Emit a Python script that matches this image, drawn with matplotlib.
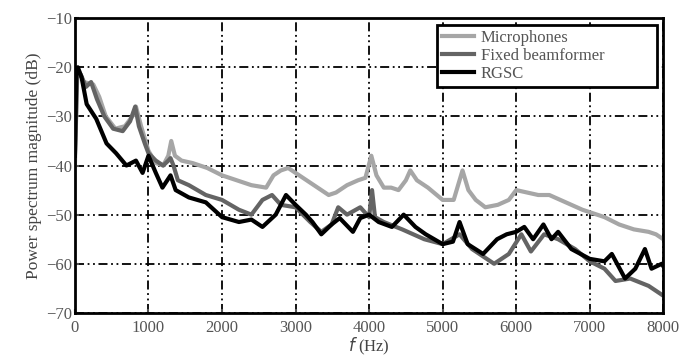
import numpy as np
import matplotlib.pyplot as plt

mic_f = [0, 30, 60, 120, 250, 330, 420, 550, 680, 780, 830, 900, 1000, 1100, 1200, 1270, 1310, 1360, 1450, 1600, 1800, 2000, 2200, 2400, 2600, 2700, 2800, 2900, 3000, 3150, 3300, 3450, 3550, 3700, 3850, 3950, 4030, 4100, 4200, 4300, 4400, 4500, 4560, 4650, 4800, 5000, 5150, 5270, 5350, 5450, 5580, 5750, 5900, 6000, 6150, 6300, 6450, 6600, 6750, 6900, 7000, 7200, 7400, 7600, 7800, 7900, 8000]
mic_db = [-40, -22, -21, -23, -23.5, -26, -30, -32.5, -32, -30, -28, -32, -37, -39.5, -40, -38, -35, -38, -39, -39.5, -40.5, -42, -43, -44, -44.5, -42, -41, -40.5, -41.5, -43, -44.5, -46, -45.5, -44, -43, -42.5, -38, -42, -44.5, -44.5, -45, -43, -41, -43, -44.5, -47, -47, -41, -45, -47, -48.5, -48, -47, -45, -45.5, -46, -46, -47, -48, -49, -49.5, -50.5, -52, -53, -53.5, -54, -55]

fix_f = [0, 30, 80, 150, 220, 300, 400, 520, 650, 750, 820, 870, 950, 1000, 1100, 1200, 1270, 1300, 1340, 1400, 1550, 1780, 2000, 2230, 2400, 2550, 2680, 2800, 3000, 3200, 3350, 3490, 3580, 3700, 3880, 4000, 4040, 4080, 4200, 4450, 4750, 5000, 5230, 5400, 5700, 5900, 6070, 6200, 6380, 6570, 6800, 7000, 7200, 7350, 7550, 7800, 8000]
fix_db = [-38, -22, -21.5, -24, -23, -26.5, -30, -32.5, -33, -31, -28, -32, -35.5, -37.5, -39, -40, -39, -38.5, -40, -43, -44, -46, -47, -49, -50, -47, -46, -48, -48.5, -51.5, -53.5, -52, -48.5, -50, -48.5, -50.5, -45, -50.5, -51.5, -53, -55, -56, -54, -57, -60, -58, -54, -57.5, -54, -55, -57, -59.5, -61, -63.5, -63, -64.5, -66.5]

rgsc_f = [0, 20, 40, 90, 160, 290, 430, 560, 700, 830, 920, 1000, 1100, 1190, 1300, 1370, 1550, 1780, 2000, 2230, 2400, 2550, 2730, 2870, 3000, 3140, 3230, 3350, 3490, 3600, 3780, 3880, 4000, 4130, 4310, 4470, 4630, 4770, 5000, 5140, 5230, 5340, 5550, 5740, 5870, 6000, 6110, 6230, 6370, 6480, 6570, 6750, 7000, 7200, 7300, 7480, 7620, 7750, 7840, 7980, 8000]
rgsc_db = [-38, -21, -20, -22, -27.5, -30.5, -35.5, -37.5, -40, -39, -41.5, -38, -41.5, -44.5, -42, -45, -46.5, -47.5, -50.5, -51.5, -51, -52.5, -50, -46, -48, -50, -51.5, -54, -52, -50.7, -53.5, -50.7, -50, -51.5, -52.5, -50, -52.5, -54, -56, -55.5, -51.5, -56, -58, -55, -54, -53.5, -52.5, -55, -52, -55, -53.5, -57, -59, -59.5, -58, -63, -61, -57, -61, -60, -60.5]

plt.rcParams['font.family'] = 'Liberation Serif'

fig = plt.figure(figsize=(6.81, 3.63), dpi=100)
ax = fig.add_axes([0.110, 0.138, 0.864, 0.812])

ax.plot(mic_f, mic_db, color='#a6a6a6', lw=3, label='Microphones')
ax.plot(fix_f, fix_db, color='#646464', lw=3, label='Fixed beamformer')
ax.plot(rgsc_f, rgsc_db, color='black', lw=3, label='RGSC')

ax.set_xlim(0, 8000)
ax.set_ylim(-70, -10)
ax.set_xticks(np.arange(0, 8001, 1000))
ax.set_yticks(np.arange(-70, -9, 10))
ax.grid(True, color='black', lw=1.3, linestyle=(0, (5, 2, 1, 2, 1, 2)))
ax.tick_params(direction='in', labelsize=12, colors='#555555', length=3, width=1.5)
ax.tick_params(axis='y', pad=2)
ax.tick_params(axis='x', pad=5)
for s in ax.spines.values():
    s.set_linewidth(2)

ax.set_xlabel('$f$ (Hz)', fontsize=12, color='#444444', labelpad=0)
ax.set_ylabel('Power spectrum magnitude (dB)', fontsize=12.5, color='#444444', labelpad=3)

# legend box is wider than its text in the original
leg = ax.legend(loc='upper left', bbox_to_anchor=(0.616, 0.976, 0.374, 0), mode='expand',
                fontsize=12, fancybox=False, framealpha=1,
                handlelength=1.9, handletextpad=0.4, borderaxespad=0,
                labelspacing=0.1, borderpad=0.3)
leg.get_frame().set_edgecolor('black')
leg.get_frame().set_linewidth(2)
for t in leg.get_texts():
    t.set_color('#555555')

plt.savefig('out.png', dpi=100)
